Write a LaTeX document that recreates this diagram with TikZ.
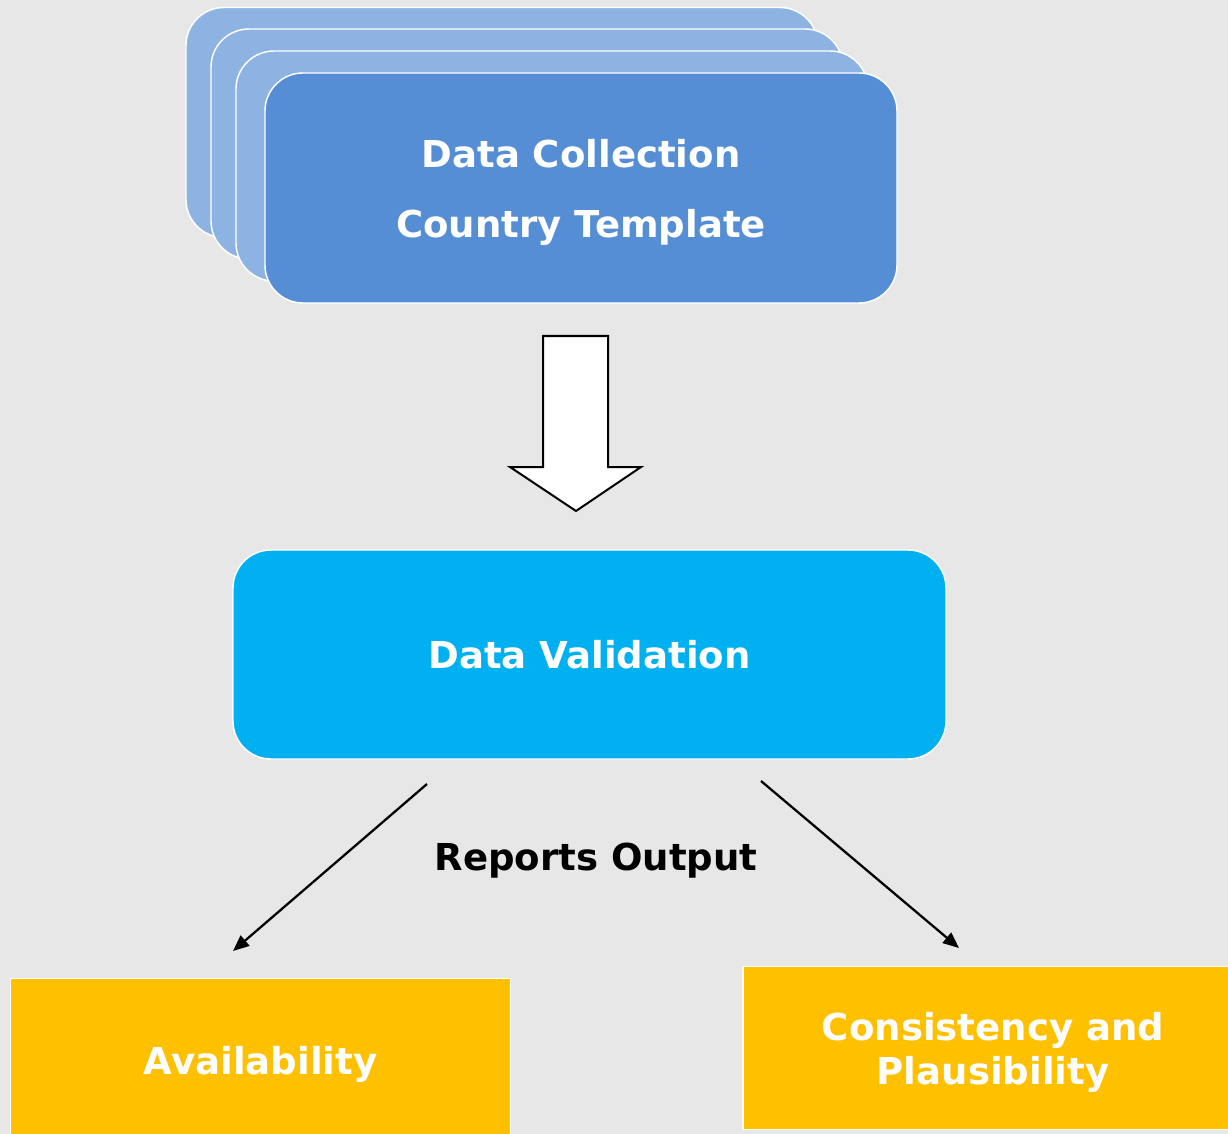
\documentclass[tikz,border=0pt]{standalone}
\usepackage{fontspec}
\setmainfont{DejaVu Sans}
\usetikzlibrary{arrows.meta}
\definecolor{bgc}{HTML}{E7E7E7}
\definecolor{backcard}{HTML}{8DB3E2}
\definecolor{frontcard}{HTML}{558ED5}
\definecolor{valc}{HTML}{00B0F0}
\definecolor{outc}{HTML}{FFC000}
\tikzset{
  card/.style={draw=white, line width=1.1pt, rounded corners=28.5pt,
    minimum width=474pt, minimum height=172.5pt, inner sep=0pt},
  backcardbox/.style={card, fill=backcard},
  frontcardbox/.style={card, fill=frontcard, text=white, align=center, text depth=0pt,
    font=\fontsize{27.8}{52.5}\selectfont\bfseries},
  valbox/.style={draw=white, line width=1.1pt, rounded corners=28.5pt, fill=valc,
    minimum width=534.75pt, minimum height=156.75pt, text=white, text depth=0pt,
    font=\fontsize{27.8}{33}\selectfont\bfseries},
  outbox/.style={draw=white, line width=1.1pt, fill=outc, text=white, align=center,
    minimum width=375pt, minimum height=122pt, inner sep=0pt, text depth=0pt,
    font=\fontsize{27.8}{33}\selectfont\bfseries},
  blockarrow/.style={draw=black, fill=white, line width=1.5pt, line join=miter},
  flowarrow/.style={draw=black, line width=1.7pt, -{Triangle[length=12pt,width=10pt]}},
  lbl/.style={text=black, text depth=0pt, font=\fontsize{27.8}{33}\selectfont\bfseries},
}
\begin{document}
\begin{tikzpicture}[x=0.75pt, y=-0.75pt]
\fill[bgc] (0,0) rectangle (1228,1134);
\useasboundingbox (0,0) rectangle (1228,1134);
% stacked cards
\node[backcardbox] (c1) at (502,122.5) {};
\node[backcardbox] (c2) at (527,144) {};
\node[backcardbox] (c3) at (552,166) {};
\node[frontcardbox] (dc) at (581,188) {Data Collection\\Country Template};
% block arrow
\draw[blockarrow] (543,336) -- (608,336) -- (608,467) -- (641,467) -- (576,511)
  -- (510,467) -- (543,467) -- cycle;
% validation
\node[valbox] (dv) at (589.5,654.5) {Data Validation};
% outputs
\node[outbox] (av) at (260.5,1060) {Availability};
\node[outbox] (cp) at (993,1048) {Consistency and\\Plausibility};
\node[lbl] (ro) at (596,857) {Reports Output};
% connectors
\coordinate (s1) at (427,784);
\coordinate (e1) at (233,951);
\coordinate (s2) at (761,781);
\coordinate (e2) at (959,948);
\draw[flowarrow] (s1) -- (e1);
\draw[flowarrow] (s2) -- (e2);
\end{tikzpicture}
\end{document}
